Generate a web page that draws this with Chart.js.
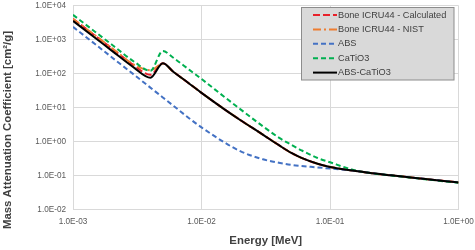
<!DOCTYPE html>
<html>
<head>
<meta charset="utf-8">
<script src="https://cdn.jsdelivr.net/npm/chart.js@4.4.1/dist/chart.umd.min.js"></script>
<style>
    body { margin: 0; background: #ffffff; }
    #wrap { width: 475px; height: 250px; }
</style>
</head>
<body>
<div id="wrap"><canvas id="attenuation-chart" width="475" height="250"></canvas></div>
<script>
// energies in MeV
let energy = [0.001, 0.0015, 0.002, 0.003, 0.004, 0.005, 0.006, 0.008, 0.01, 0.015, 0.02, 0.03, 0.04, 0.05, 0.06, 0.08, 0.1, 0.15, 0.2, 0.3, 0.5, 0.8, 1.0];

// mass attenuation coefficient, cm2/g
let boneCalculated = [4050, 1260, 550, 170, 92, 200, 115, 51, 27, 9.0, 4.3, 1.6, 0.78, 0.46, 0.33, 0.222, 0.178, 0.140, 0.120, 0.101, 0.082, 0.068, 0.0625];
let boneNist = [4000, 1280, 565, 180, 125, 195, 115, 51, 27, 9.0, 4.3, 1.6, 0.78, 0.46, 0.33, 0.222, 0.178, 0.140, 0.120, 0.101, 0.082, 0.068, 0.0625];
let abs = [2350, 710, 301, 91, 38.5, 19.8, 11.5, 4.85, 2.6, 0.95, 0.52, 0.30, 0.238, 0.205, 0.19, 0.173, 0.16, 0.141, 0.12, 0.101, 0.082, 0.068, 0.0625];
let caTiO3 = [5300, 1640, 710, 220, 120, 460, 295, 130, 69, 20.8, 8.98, 2.81, 1.3, 0.8, 0.55, 0.327, 0.245, 0.148, 0.12, 0.1, 0.081, 0.0665, 0.061];
let absCaTiO3 = [3530, 1090, 472, 146, 75, 200, 115, 51, 27, 9.0, 4.3, 1.6, 0.78, 0.46, 0.33, 0.222, 0.178, 0.140, 0.120, 0.101, 0.082, 0.068, 0.0625];

let xTicks = [0.001, 0.01, 0.1, 1];
let xTickLabels = ['1.0E-03', '1.0E-02', '1.0E-01', '1.0E+00'];
let yTicks = [0.01, 0.1, 1, 10, 100, 1000, 10000];
let yTickLabels = ['1.0E-02', '1.0E-01', '1.0E+00', '1.0E+01', '1.0E+02', '1.0E+03', '1.0E+04'];

let xTitle = 'Energy [MeV]';
let yTitle = 'Mass Attenuation Coefficient [cm\u00B2/g]';

Chart.defaults.font.family = "'Liberation Sans', Arial, sans-serif";

function toPoints(values) {
    return energy.map((e, i) => ({ x: e, y: values[i] }));
}

function makeDataset(label, values, color, dash, width, order) {
    return {
        label: label,
        data: toPoints(values),
        borderColor: color,
        backgroundColor: color,
        borderDash: dash,
        borderWidth: width,
        pointRadius: 0,
        cubicInterpolationMode: 'monotone',
        fill: false,
        order: order,
    };
}

// legend box drawn inside the plot like the excel one
const boxLegend = {
    id: 'boxLegend',
    afterDatasetsDraw(chart) {
        const ctx = chart.ctx;
        const left = 301.5, top = 7.5, w = 152.5, h = 72.5;
        ctx.save();
        ctx.fillStyle = '#d9d9d9';
        ctx.strokeStyle = '#8c8c8c';
        ctx.lineWidth = 1;
        ctx.fillRect(left, top, w, h);
        ctx.strokeRect(left, top, w, h);
        ctx.font = "9.2px 'Liberation Sans', Arial, sans-serif";
        ctx.textBaseline = 'middle';
        chart.data.datasets.forEach((ds, i) => {
            const y = 15 + i * 14.4;
            ctx.beginPath();
            ctx.setLineDash(ds.borderDash);
            ctx.strokeStyle = ds.borderColor;
            ctx.lineWidth = ds.borderWidth;
            ctx.moveTo(313, y);
            ctx.lineTo(337, y);
            ctx.stroke();
            ctx.setLineDash([]);
            ctx.fillStyle = '#404040';
            ctx.fillText(ds.label, 338, y);
        });
        ctx.restore();
    }
};

// rotated y title, centred like the original
const yTitlePlugin = {
    id: 'yTitlePlugin',
    afterDraw(chart) {
        const ctx = chart.ctx;
        ctx.save();
        ctx.translate(7.5, 130);
        ctx.rotate(-Math.PI / 2);
        ctx.font = "bold 11.4px 'Liberation Sans', Arial, sans-serif";
        ctx.fillStyle = '#404040';
        ctx.textAlign = 'center';
        ctx.textBaseline = 'middle';
        ctx.fillText(yTitle, 0, 0);
        ctx.restore();
    }
};

function drawChart() {
    const ctx = document.getElementById('attenuation-chart').getContext('2d');
    const data = {
        datasets: [
            makeDataset('Bone ICRU44 - Calculated', boneCalculated, '#e8212b', [7, 3], 2, 5),
            makeDataset('Bone ICRU44 - NIST', boneNist, '#ed7d31', [8, 3, 2, 3], 2, 4),
            makeDataset('ABS', abs, '#4472c4', [5, 3], 2, 3),
            makeDataset('CaTiO3', caTiO3, '#00b050', [5, 3], 2, 2),
            makeDataset('ABS-CaTiO3', absCaTiO3, '#000000', [], 2, 1),
        ]
    };
    let myChart = new Chart(ctx, {
        type: 'line',
        data: data,
        plugins: [boxLegend, yTitlePlugin],
        options: {
            responsive: false,
            animation: false,
            devicePixelRatio: 1,
            layout: { padding: { top: 5.5, right: 16.5, bottom: 0, left: 0 } },
            plugins: {
                legend: { display: false },
                tooltip: { enabled: false },
            },
            scales: {
                x: {
                    type: 'logarithmic',
                    min: 0.001,
                    max: 1,
                    afterBuildTicks: (scale) => { scale.ticks = xTicks.map(v => ({ value: v })); },
                    afterFit: (scale) => {
                        scale.height = 40.5;
                        scale.paddingLeft = 0;
                        scale.paddingRight = 0;
                    },
                    grid: { color: '#d9d9d9', drawTicks: false },
                    border: { color: '#d9d9d9' },
                    ticks: {
                        autoSkip: false,
                        maxRotation: 0,
                        padding: 7,
                        color: '#595959',
                        font: { size: 8.2 },
                        callback: (value, index) => xTickLabels[index],
                    },
                    title: {
                        display: true,
                        text: xTitle,
                        color: '#404040',
                        font: { size: 11.4, weight: 'bold' },
                        padding: { top: 4, bottom: 2 },
                    },
                },
                y: {
                    type: 'logarithmic',
                    min: 0.01,
                    max: 10000,
                    afterBuildTicks: (scale) => { scale.ticks = yTicks.map(v => ({ value: v })); },
                    afterFit: (scale) => {
                        scale.width = 73;
                        scale.paddingTop = 0;
                        scale.paddingBottom = 0;
                    },
                    grid: { color: '#d9d9d9', drawTicks: false },
                    border: { color: '#d9d9d9' },
                    ticks: {
                        autoSkip: false,
                        padding: 7,
                        color: '#595959',
                        font: { size: 8.2 },
                        callback: (value, index) => yTickLabels[index],
                    },
                },
            },
        },
    });
}

drawChart();
</script>
</body>
</html>
